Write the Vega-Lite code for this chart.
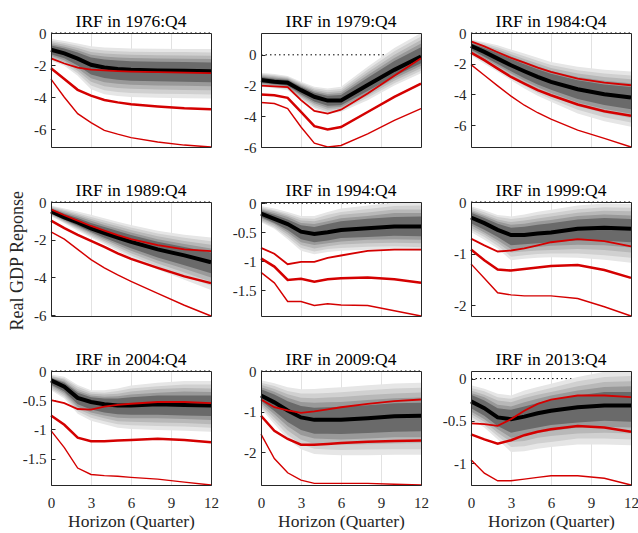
{
"$schema": "https://vega.github.io/schema/vega-lite/v6.json",
"padding": {"left": 8, "top": 12, "right": 0, "bottom": 0},
"data": {"values": [
{"p":"IRF in 1976:Q4","h":0,"m":-1.04,"r1":-1.58,"r2":-2.2,"r3":-2.87,"a1":-1.73,"b1":-0.38,"a2":-1.63,"b2":-0.48,"a3":-1.52,"b3":-0.58,"a4":-1.42,"b4":-0.68,"a5":-1.32,"b5":-0.78},
{"p":"IRF in 1976:Q4","h":1,"m":-1.27,"r1":-1.9,"r2":-2.87,"r3":-4.0,"a1":-2.04,"b1":-0.5,"a2":-1.93,"b2":-0.62,"a3":-1.81,"b3":-0.73,"a4":-1.69,"b4":-0.85,"a5":-1.58,"b5":-0.96},
{"p":"IRF in 1976:Q4","h":2,"m":-1.6,"r1":-2.15,"r2":-3.54,"r3":-5.02,"a1":-2.67,"b1":-0.65,"a2":-2.51,"b2":-0.79,"a3":-2.35,"b3":-0.94,"a4":-2.19,"b4":-1.08,"a5":-2.03,"b5":-1.22},
{"p":"IRF in 1976:Q4","h":3,"m":-1.98,"r1":-2.28,"r2":-3.9,"r3":-5.58,"a1":-3.5,"b1":-0.83,"a2":-3.27,"b2":-1.0,"a3":-3.04,"b3":-1.18,"a4":-2.82,"b4":-1.35,"a5":-2.59,"b5":-1.52},
{"p":"IRF in 1976:Q4","h":4,"m":-2.15,"r1":-2.33,"r2":-4.17,"r3":-6.06,"a1":-3.81,"b1":-0.9,"a2":-3.56,"b2":-1.09,"a3":-3.31,"b3":-1.28,"a4":-3.06,"b4":-1.46,"a5":-2.81,"b5":-1.65},
{"p":"IRF in 1976:Q4","h":5,"m":-2.24,"r1":-2.37,"r2":-4.32,"r3":-6.3,"a1":-3.92,"b1":-0.94,"a2":-3.67,"b2":-1.14,"a3":-3.42,"b3":-1.33,"a4":-3.16,"b4":-1.53,"a5":-2.91,"b5":-1.72},
{"p":"IRF in 1976:Q4","h":6,"m":-2.29,"r1":-2.4,"r2":-4.44,"r3":-6.52,"a1":-3.98,"b1":-0.96,"a2":-3.73,"b2":-1.16,"a3":-3.47,"b3":-1.36,"a4":-3.22,"b4":-1.56,"a5":-2.97,"b5":-1.76},
{"p":"IRF in 1976:Q4","h":8,"m":-2.33,"r1":-2.44,"r2":-4.58,"r3":-6.79,"a1":-4.03,"b1":-0.98,"a2":-3.78,"b2":-1.18,"a3":-3.52,"b3":-1.39,"a4":-3.27,"b4":-1.59,"a5":-3.01,"b5":-1.79},
{"p":"IRF in 1976:Q4","h":10,"m":-2.35,"r1":-2.47,"r2":-4.69,"r3":-6.98,"a1":-4.06,"b1":-0.99,"a2":-3.8,"b2":-1.19,"a3":-3.55,"b3":-1.4,"a4":-3.29,"b4":-1.6,"a5":-3.03,"b5":-1.81},
{"p":"IRF in 1976:Q4","h":12,"m":-2.38,"r1":-2.5,"r2":-4.75,"r3":-7.1,"a1":-4.08,"b1":-1.0,"a2":-3.83,"b2":-1.21,"a3":-3.57,"b3":-1.41,"a4":-3.32,"b4":-1.62,"a5":-3.06,"b5":-1.83},
{"p":"IRF in 1979:Q4","h":0,"m":-1.64,"r1":-2.01,"r2":-2.58,"r3":-3.1,"a1":-2.08,"b1":-1.16,"a2":-2.01,"b2":-1.23,"a3":-1.95,"b3":-1.3,"a4":-1.88,"b4":-1.38,"a5":-1.82,"b5":-1.45},
{"p":"IRF in 1979:Q4","h":1,"m":-1.75,"r1":-2.06,"r2":-2.63,"r3":-3.17,"a1":-2.17,"b1":-1.25,"a2":-2.11,"b2":-1.33,"a3":-2.04,"b3":-1.4,"a4":-1.98,"b4":-1.48,"a5":-1.92,"b5":-1.55},
{"p":"IRF in 1979:Q4","h":2,"m":-1.82,"r1":-2.1,"r2":-2.8,"r3":-3.5,"a1":-2.3,"b1":-1.38,"a2":-2.23,"b2":-1.45,"a3":-2.16,"b3":-1.51,"a4":-2.08,"b4":-1.58,"a5":-2.01,"b5":-1.64},
{"p":"IRF in 1979:Q4","h":3,"m":-2.3,"r1":-2.95,"r2":-3.72,"r3":-4.7,"a1":-2.95,"b1":-1.75,"a2":-2.85,"b2":-1.83,"a3":-2.76,"b3":-1.92,"a4":-2.66,"b4":-2.0,"a5":-2.56,"b5":-2.08},
{"p":"IRF in 1979:Q4","h":4,"m":-2.73,"r1":-3.65,"r2":-4.64,"r3":-5.75,"a1":-3.5,"b1":-2.08,"a2":-3.39,"b2":-2.18,"a3":-3.27,"b3":-2.28,"a4":-3.15,"b4":-2.37,"a5":-3.04,"b5":-2.47},
{"p":"IRF in 1979:Q4","h":5,"m":-2.98,"r1":-3.83,"r2":-4.86,"r3":-6.0,"a1":-3.83,"b1":-2.19,"a2":-3.7,"b2":-2.31,"a3":-3.58,"b3":-2.43,"a4":-3.45,"b4":-2.55,"a5":-3.32,"b5":-2.66},
{"p":"IRF in 1979:Q4","h":6,"m":-2.98,"r1":-3.57,"r2":-4.7,"r3":-5.9,"a1":-3.72,"b1":-2.08,"a2":-3.61,"b2":-2.22,"a3":-3.5,"b3":-2.35,"a4":-3.39,"b4":-2.49,"a5":-3.28,"b5":-2.62},
{"p":"IRF in 1979:Q4","h":8,"m":-1.97,"r1":-2.52,"r2":-3.72,"r3":-5.14,"a1":-2.95,"b1":-0.77,"a2":-2.8,"b2":-0.95,"a3":-2.66,"b3":-1.13,"a4":-2.51,"b4":-1.31,"a5":-2.36,"b5":-1.49},
{"p":"IRF in 1979:Q4","h":10,"m":-0.98,"r1":-1.36,"r2":-2.74,"r3":-4.27,"a1":-2.0,"b1":0.44,"a2":-1.85,"b2":0.23,"a3":-1.69,"b3":0.01,"a4":-1.54,"b4":-0.2,"a5":-1.39,"b5":-0.41},
{"p":"IRF in 1979:Q4","h":12,"m":-0.11,"r1":-0.22,"r2":-1.88,"r3":-3.5,"a1":-1.2,"b1":1.42,"a2":-1.04,"b2":1.19,"a3":-0.87,"b3":0.96,"a4":-0.71,"b4":0.73,"a5":-0.55,"b5":0.5},
{"p":"IRF in 1984:Q4","h":0,"m":-0.84,"r1":-0.54,"r2":-1.28,"r3":-2.06,"a1":-1.45,"b1":-0.41,"a2":-1.36,"b2":-0.47,"a3":-1.27,"b3":-0.54,"a4":-1.18,"b4":-0.6,"a5":-1.08,"b5":-0.67},
{"p":"IRF in 1984:Q4","h":1,"m":-1.23,"r1":-0.87,"r2":-1.77,"r3":-2.75,"a1":-2.0,"b1":-0.6,"a2":-1.89,"b2":-0.69,"a3":-1.77,"b3":-0.79,"a4":-1.65,"b4":-0.88,"a5":-1.54,"b5":-0.98},
{"p":"IRF in 1984:Q4","h":2,"m":-1.67,"r1":-1.25,"r2":-2.32,"r3":-3.44,"a1":-2.53,"b1":-0.8,"a2":-2.4,"b2":-0.93,"a3":-2.27,"b3":-1.06,"a4":-2.14,"b4":-1.19,"a5":-2.01,"b5":-1.32},
{"p":"IRF in 1984:Q4","h":3,"m":-2.1,"r1":-1.62,"r2":-2.86,"r3":-4.11,"a1":-3.07,"b1":-1.07,"a2":-2.93,"b2":-1.22,"a3":-2.78,"b3":-1.38,"a4":-2.63,"b4":-1.53,"a5":-2.49,"b5":-1.69},
{"p":"IRF in 1984:Q4","h":4,"m":-2.49,"r1":-1.93,"r2":-3.29,"r3":-4.7,"a1":-3.61,"b1":-1.34,"a2":-3.44,"b2":-1.51,"a3":-3.27,"b3":-1.69,"a4":-3.11,"b4":-1.86,"a5":-2.94,"b5":-2.03},
{"p":"IRF in 1984:Q4","h":5,"m":-2.86,"r1":-2.25,"r2":-3.72,"r3":-5.19,"a1":-4.08,"b1":-1.61,"a2":-3.9,"b2":-1.8,"a3":-3.71,"b3":-1.99,"a4":-3.53,"b4":-2.17,"a5":-3.35,"b5":-2.36},
{"p":"IRF in 1984:Q4","h":6,"m":-3.18,"r1":-2.53,"r2":-4.05,"r3":-5.6,"a1":-4.48,"b1":-1.88,"a2":-4.29,"b2":-2.08,"a3":-4.09,"b3":-2.27,"a4":-3.9,"b4":-2.47,"a5":-3.7,"b5":-2.66},
{"p":"IRF in 1984:Q4","h":8,"m":-3.66,"r1":-2.97,"r2":-4.65,"r3":-6.32,"a1":-5.24,"b1":-2.2,"a2":-5.0,"b2":-2.42,"a3":-4.77,"b3":-2.64,"a4":-4.53,"b4":-2.86,"a5":-4.29,"b5":-3.08},
{"p":"IRF in 1984:Q4","h":10,"m":-3.98,"r1":-3.23,"r2":-5.09,"r3":-6.86,"a1":-5.74,"b1":-2.4,"a2":-5.48,"b2":-2.64,"a3":-5.21,"b3":-2.87,"a4":-4.95,"b4":-3.11,"a5":-4.68,"b5":-3.35},
{"p":"IRF in 1984:Q4","h":12,"m":-4.2,"r1":-3.4,"r2":-5.39,"r3":-7.42,"a1":-6.1,"b1":-2.5,"a2":-5.82,"b2":-2.76,"a3":-5.53,"b3":-3.01,"a4":-5.25,"b4":-3.27,"a5":-4.96,"b5":-3.52},
{"p":"IRF in 1989:Q4","h":0,"m":-0.5,"r1":-0.39,"r2":-0.99,"r3":-1.58,"a1":-0.75,"b1":-0.18,"a2":-0.71,"b2":-0.23,"a3":-0.68,"b3":-0.28,"a4":-0.64,"b4":-0.32,"a5":-0.6,"b5":-0.37},
{"p":"IRF in 1989:Q4","h":1,"m":-0.81,"r1":-0.7,"r2":-1.38,"r3":-1.97,"a1":-1.13,"b1":-0.34,"a2":-1.08,"b2":-0.41,"a3":-1.03,"b3":-0.48,"a4":-0.99,"b4":-0.55,"a5":-0.94,"b5":-0.62},
{"p":"IRF in 1989:Q4","h":2,"m":-1.08,"r1":-0.99,"r2":-1.74,"r3":-2.51,"a1":-1.52,"b1":-0.5,"a2":-1.45,"b2":-0.59,"a3":-1.39,"b3":-0.67,"a4":-1.32,"b4":-0.76,"a5":-1.26,"b5":-0.85},
{"p":"IRF in 1989:Q4","h":3,"m":-1.4,"r1":-1.27,"r2":-2.06,"r3":-3.05,"a1":-1.88,"b1":-0.68,"a2":-1.81,"b2":-0.79,"a3":-1.74,"b3":-0.9,"a4":-1.66,"b4":-1.0,"a5":-1.59,"b5":-1.11},
{"p":"IRF in 1989:Q4","h":4,"m":-1.65,"r1":-1.52,"r2":-2.38,"r3":-3.49,"a1":-2.24,"b1":-0.86,"a2":-2.15,"b2":-0.98,"a3":-2.06,"b3":-1.1,"a4":-1.98,"b4":-1.22,"a5":-1.89,"b5":-1.33},
{"p":"IRF in 1989:Q4","h":5,"m":-1.88,"r1":-1.76,"r2":-2.72,"r3":-3.86,"a1":-2.6,"b1":-1.04,"a2":-2.49,"b2":-1.17,"a3":-2.38,"b3":-1.29,"a4":-2.28,"b4":-1.42,"a5":-2.17,"b5":-1.54},
{"p":"IRF in 1989:Q4","h":6,"m":-2.11,"r1":-1.97,"r2":-3.01,"r3":-4.21,"a1":-2.96,"b1":-1.22,"a2":-2.83,"b2":-1.35,"a3":-2.71,"b3":-1.49,"a4":-2.58,"b4":-1.62,"a5":-2.45,"b5":-1.75},
{"p":"IRF in 1989:Q4","h":8,"m":-2.51,"r1":-2.29,"r2":-3.49,"r3":-4.84,"a1":-3.58,"b1":-1.52,"a2":-3.42,"b2":-1.67,"a3":-3.26,"b3":-1.82,"a4":-3.1,"b4":-1.97,"a5":-2.94,"b5":-2.11},
{"p":"IRF in 1989:Q4","h":10,"m":-2.83,"r1":-2.51,"r2":-3.94,"r3":-5.47,"a1":-4.12,"b1":-1.74,"a2":-3.93,"b2":-1.9,"a3":-3.73,"b3":-2.07,"a4":-3.54,"b4":-2.23,"a5":-3.35,"b5":-2.39},
{"p":"IRF in 1989:Q4","h":12,"m":-3.19,"r1":-2.6,"r2":-4.3,"r3":-6.04,"a1":-4.66,"b1":-1.88,"a2":-4.44,"b2":-2.08,"a3":-4.22,"b3":-2.27,"a4":-4.0,"b4":-2.47,"a5":-3.78,"b5":-2.67},
{"p":"IRF in 1994:Q4","h":0,"m":-0.18,"r1":-0.77,"r2":-0.95,"r3":-1.19,"a1":-0.33,"b1":-0.05,"a2":-0.31,"b2":-0.07,"a3":-0.29,"b3":-0.09,"a4":-0.26,"b4":-0.11,"a5":-0.24,"b5":-0.13},
{"p":"IRF in 1994:Q4","h":1,"m":-0.27,"r1":-0.87,"r2":-1.09,"r3":-1.37,"a1":-0.44,"b1":-0.09,"a2":-0.42,"b2":-0.12,"a3":-0.39,"b3":-0.14,"a4":-0.36,"b4":-0.17,"a5":-0.34,"b5":-0.2},
{"p":"IRF in 1994:Q4","h":2,"m":-0.36,"r1":-1.05,"r2":-1.32,"r3":-1.69,"a1":-0.62,"b1":-0.15,"a2":-0.58,"b2":-0.18,"a3":-0.54,"b3":-0.21,"a4":-0.5,"b4":-0.24,"a5":-0.46,"b5":-0.28},
{"p":"IRF in 1994:Q4","h":3,"m":-0.49,"r1":-1.01,"r2":-1.3,"r3":-1.69,"a1":-0.82,"b1":-0.22,"a2":-0.77,"b2":-0.26,"a3":-0.72,"b3":-0.3,"a4":-0.67,"b4":-0.34,"a5":-0.62,"b5":-0.38},
{"p":"IRF in 1994:Q4","h":4,"m":-0.53,"r1":-1.01,"r2":-1.35,"r3":-1.76,"a1":-0.88,"b1":-0.22,"a2":-0.83,"b2":-0.27,"a3":-0.78,"b3":-0.31,"a4":-0.72,"b4":-0.36,"a5":-0.67,"b5":-0.41},
{"p":"IRF in 1994:Q4","h":5,"m":-0.5,"r1":-0.94,"r2":-1.31,"r3":-1.73,"a1":-0.84,"b1":-0.15,"a2":-0.79,"b2":-0.2,"a3":-0.74,"b3":-0.26,"a4":-0.69,"b4":-0.31,"a5":-0.64,"b5":-0.36},
{"p":"IRF in 1994:Q4","h":6,"m":-0.46,"r1":-0.9,"r2":-1.29,"r3":-1.75,"a1":-0.82,"b1":-0.09,"a2":-0.77,"b2":-0.15,"a3":-0.71,"b3":-0.2,"a4":-0.66,"b4":-0.26,"a5":-0.6,"b5":-0.31},
{"p":"IRF in 1994:Q4","h":8,"m":-0.43,"r1":-0.82,"r2":-1.28,"r3":-1.76,"a1":-0.8,"b1":-0.04,"a2":-0.75,"b2":-0.1,"a3":-0.69,"b3":-0.16,"a4":-0.63,"b4":-0.22,"a5":-0.58,"b5":-0.27},
{"p":"IRF in 1994:Q4","h":10,"m":-0.4,"r1":-0.8,"r2":-1.31,"r3":-1.85,"a1":-0.8,"b1":0.01,"a2":-0.74,"b2":-0.05,"a3":-0.68,"b3":-0.11,"a4":-0.62,"b4":-0.17,"a5":-0.56,"b5":-0.24},
{"p":"IRF in 1994:Q4","h":12,"m":-0.4,"r1":-0.8,"r2":-1.37,"r3":-1.94,"a1":-0.82,"b1":0.02,"a2":-0.76,"b2":-0.04,"a3":-0.69,"b3":-0.11,"a4":-0.63,"b4":-0.17,"a5":-0.57,"b5":-0.23},
{"p":"IRF in 1999:Q4","h":0,"m":-0.3,"r1":-0.71,"r2":-0.92,"r3":-1.2,"a1":-0.58,"b1":-0.08,"a2":-0.54,"b2":-0.11,"a3":-0.5,"b3":-0.15,"a4":-0.45,"b4":-0.18,"a5":-0.41,"b5":-0.21},
{"p":"IRF in 1999:Q4","h":1,"m":-0.41,"r1":-0.84,"r2":-1.13,"r3":-1.48,"a1":-0.73,"b1":-0.16,"a2":-0.68,"b2":-0.2,"a3":-0.63,"b3":-0.24,"a4":-0.59,"b4":-0.27,"a5":-0.54,"b5":-0.31},
{"p":"IRF in 1999:Q4","h":2,"m":-0.54,"r1":-0.96,"r2":-1.31,"r3":-1.76,"a1":-0.9,"b1":-0.25,"a2":-0.85,"b2":-0.29,"a3":-0.79,"b3":-0.34,"a4":-0.74,"b4":-0.38,"a5":-0.68,"b5":-0.42},
{"p":"IRF in 1999:Q4","h":3,"m":-0.64,"r1":-0.94,"r2":-1.33,"r3":-1.8,"a1":-1.13,"b1":-0.28,"a2":-1.06,"b2":-0.33,"a3":-0.98,"b3":-0.39,"a4":-0.91,"b4":-0.44,"a5":-0.84,"b5":-0.5},
{"p":"IRF in 1999:Q4","h":4,"m":-0.64,"r1":-0.9,"r2":-1.3,"r3":-1.82,"a1":-1.1,"b1":-0.24,"a2":-1.03,"b2":-0.3,"a3":-0.96,"b3":-0.36,"a4":-0.89,"b4":-0.42,"a5":-0.82,"b5":-0.48},
{"p":"IRF in 1999:Q4","h":5,"m":-0.61,"r1":-0.84,"r2":-1.27,"r3":-1.82,"a1":-1.08,"b1":-0.19,"a2":-1.01,"b2":-0.25,"a3":-0.94,"b3":-0.32,"a4":-0.87,"b4":-0.38,"a5":-0.8,"b5":-0.44},
{"p":"IRF in 1999:Q4","h":6,"m":-0.59,"r1":-0.78,"r2":-1.24,"r3":-1.82,"a1":-1.07,"b1":-0.15,"a2":-1.0,"b2":-0.22,"a3":-0.93,"b3":-0.28,"a4":-0.85,"b4":-0.35,"a5":-0.78,"b5":-0.41},
{"p":"IRF in 1999:Q4","h":8,"m":-0.52,"r1":-0.72,"r2":-1.22,"r3":-1.87,"a1":-1.08,"b1":-0.07,"a2":-1.0,"b2":-0.14,"a3":-0.91,"b3":-0.21,"a4":-0.83,"b4":-0.27,"a5":-0.74,"b5":-0.34},
{"p":"IRF in 1999:Q4","h":10,"m":-0.5,"r1":-0.76,"r2":-1.32,"r3":-2.03,"a1":-1.12,"b1":-0.03,"a2":-1.03,"b2":-0.1,"a3":-0.93,"b3":-0.17,"a4":-0.84,"b4":-0.24,"a5":-0.75,"b5":-0.31},
{"p":"IRF in 1999:Q4","h":12,"m":-0.52,"r1":-0.86,"r2":-1.47,"r3":-2.21,"a1":-1.18,"b1":-0.04,"a2":-1.08,"b2":-0.11,"a3":-0.98,"b3":-0.18,"a4":-0.88,"b4":-0.26,"a5":-0.78,"b5":-0.33},
{"p":"IRF in 2004:Q4","h":0,"m":-0.16,"r1":-0.5,"r2":-0.76,"r3":-1.02,"a1":-0.33,"b1":-0.06,"a2":-0.31,"b2":-0.08,"a3":-0.28,"b3":-0.09,"a4":-0.25,"b4":-0.11,"a5":-0.23,"b5":-0.12},
{"p":"IRF in 2004:Q4","h":1,"m":-0.27,"r1":-0.55,"r2":-0.92,"r3":-1.31,"a1":-0.47,"b1":-0.1,"a2":-0.44,"b2":-0.13,"a3":-0.41,"b3":-0.15,"a4":-0.38,"b4":-0.18,"a5":-0.35,"b5":-0.2},
{"p":"IRF in 2004:Q4","h":2,"m":-0.46,"r1":-0.65,"r2":-1.14,"r3":-1.66,"a1":-0.73,"b1":-0.24,"a2":-0.69,"b2":-0.27,"a3":-0.65,"b3":-0.31,"a4":-0.61,"b4":-0.34,"a5":-0.57,"b5":-0.37},
{"p":"IRF in 2004:Q4","h":3,"m":-0.53,"r1":-0.66,"r2":-1.2,"r3":-1.77,"a1":-0.85,"b1":-0.33,"a2":-0.8,"b2":-0.36,"a3":-0.75,"b3":-0.39,"a4":-0.71,"b4":-0.42,"a5":-0.66,"b5":-0.45},
{"p":"IRF in 2004:Q4","h":4,"m":-0.57,"r1":-0.61,"r2":-1.2,"r3":-1.79,"a1":-0.91,"b1":-0.33,"a2":-0.86,"b2":-0.37,"a3":-0.81,"b3":-0.4,"a4":-0.76,"b4":-0.44,"a5":-0.71,"b5":-0.47},
{"p":"IRF in 2004:Q4","h":5,"m":-0.59,"r1":-0.58,"r2":-1.19,"r3":-1.8,"a1":-0.97,"b1":-0.3,"a2":-0.91,"b2":-0.34,"a3":-0.86,"b3":-0.39,"a4":-0.8,"b4":-0.43,"a5":-0.74,"b5":-0.47},
{"p":"IRF in 2004:Q4","h":6,"m":-0.59,"r1":-0.56,"r2":-1.18,"r3":-1.82,"a1":-0.99,"b1":-0.25,"a2":-0.93,"b2":-0.3,"a3":-0.87,"b3":-0.35,"a4":-0.81,"b4":-0.4,"a5":-0.75,"b5":-0.45},
{"p":"IRF in 2004:Q4","h":8,"m":-0.57,"r1":-0.53,"r2":-1.16,"r3":-1.85,"a1":-1.01,"b1":-0.2,"a2":-0.94,"b2":-0.26,"a3":-0.88,"b3":-0.31,"a4":-0.81,"b4":-0.37,"a5":-0.75,"b5":-0.42},
{"p":"IRF in 2004:Q4","h":10,"m":-0.58,"r1":-0.53,"r2":-1.18,"r3":-1.9,"a1":-1.02,"b1":-0.17,"a2":-0.95,"b2":-0.23,"a3":-0.89,"b3":-0.29,"a4":-0.82,"b4":-0.35,"a5":-0.76,"b5":-0.42},
{"p":"IRF in 2004:Q4","h":12,"m":-0.59,"r1":-0.55,"r2":-1.22,"r3":-1.95,"a1":-1.04,"b1":-0.17,"a2":-0.97,"b2":-0.23,"a3":-0.91,"b3":-0.3,"a4":-0.84,"b4":-0.36,"a5":-0.77,"b5":-0.42},
{"p":"IRF in 2009:Q4","h":0,"m":-0.6,"r1":-0.7,"r2":-1.1,"r3":-1.55,"a1":-0.93,"b1":-0.23,"a2":-0.88,"b2":-0.29,"a3":-0.83,"b3":-0.34,"a4":-0.78,"b4":-0.4,"a5":-0.73,"b5":-0.45},
{"p":"IRF in 2009:Q4","h":1,"m":-0.77,"r1":-0.89,"r2":-1.47,"r3":-2.15,"a1":-1.3,"b1":-0.3,"a2":-1.22,"b2":-0.37,"a3":-1.14,"b3":-0.44,"a4":-1.06,"b4":-0.51,"a5":-0.98,"b5":-0.58},
{"p":"IRF in 2009:Q4","h":2,"m":-0.97,"r1":-0.97,"r2":-1.67,"r3":-2.5,"a1":-1.67,"b1":-0.4,"a2":-1.57,"b2":-0.49,"a3":-1.46,"b3":-0.57,"a4":-1.36,"b4":-0.66,"a5":-1.25,"b5":-0.74},
{"p":"IRF in 2009:Q4","h":3,"m":-1.14,"r1":-1.03,"r2":-1.81,"r3":-2.68,"a1":-1.92,"b1":-0.45,"a2":-1.8,"b2":-0.55,"a3":-1.69,"b3":-0.66,"a4":-1.57,"b4":-0.76,"a5":-1.45,"b5":-0.86},
{"p":"IRF in 2009:Q4","h":4,"m":-1.2,"r1":-0.99,"r2":-1.81,"r3":-2.76,"a1":-2.04,"b1":-0.44,"a2":-1.91,"b2":-0.55,"a3":-1.79,"b3":-0.67,"a4":-1.66,"b4":-0.78,"a5":-1.54,"b5":-0.9},
{"p":"IRF in 2009:Q4","h":5,"m":-1.2,"r1":-0.94,"r2":-1.79,"r3":-2.76,"a1":-2.06,"b1":-0.42,"a2":-1.93,"b2":-0.54,"a3":-1.8,"b3":-0.65,"a4":-1.67,"b4":-0.77,"a5":-1.54,"b5":-0.89},
{"p":"IRF in 2009:Q4","h":6,"m":-1.2,"r1":-0.89,"r2":-1.77,"r3":-2.76,"a1":-2.07,"b1":-0.4,"a2":-1.94,"b2":-0.52,"a3":-1.81,"b3":-0.64,"a4":-1.68,"b4":-0.76,"a5":-1.55,"b5":-0.88},
{"p":"IRF in 2009:Q4","h":8,"m":-1.16,"r1":-0.81,"r2":-1.74,"r3":-2.76,"a1":-2.07,"b1":-0.35,"a2":-1.93,"b2":-0.47,"a3":-1.8,"b3":-0.59,"a4":-1.66,"b4":-0.71,"a5":-1.52,"b5":-0.84},
{"p":"IRF in 2009:Q4","h":10,"m":-1.11,"r1":-0.74,"r2":-1.72,"r3":-2.78,"a1":-2.06,"b1":-0.31,"a2":-1.92,"b2":-0.43,"a3":-1.78,"b3":-0.55,"a4":-1.63,"b4":-0.67,"a5":-1.49,"b5":-0.79},
{"p":"IRF in 2009:Q4","h":12,"m":-1.1,"r1":-0.7,"r2":-1.71,"r3":-2.8,"a1":-2.06,"b1":-0.29,"a2":-1.92,"b2":-0.41,"a3":-1.77,"b3":-0.53,"a4":-1.63,"b4":-0.65,"a5":-1.48,"b5":-0.78},
{"p":"IRF in 2013:Q4","h":0,"m":-0.27,"r1":-0.53,"r2":-0.66,"r3":-0.96,"a1":-0.48,"b1":-0.08,"a2":-0.45,"b2":-0.11,"a3":-0.42,"b3":-0.14,"a4":-0.39,"b4":-0.17,"a5":-0.35,"b5":-0.19},
{"p":"IRF in 2013:Q4","h":1,"m":-0.35,"r1":-0.54,"r2":-0.72,"r3":-1.12,"a1":-0.58,"b1":-0.12,"a2":-0.55,"b2":-0.15,"a3":-0.51,"b3":-0.19,"a4":-0.48,"b4":-0.22,"a5":-0.44,"b5":-0.26},
{"p":"IRF in 2013:Q4","h":2,"m":-0.46,"r1":-0.56,"r2":-0.77,"r3":-1.21,"a1":-0.72,"b1":-0.18,"a2":-0.68,"b2":-0.22,"a3":-0.64,"b3":-0.26,"a4":-0.6,"b4":-0.31,"a5":-0.56,"b5":-0.35},
{"p":"IRF in 2013:Q4","h":3,"m":-0.48,"r1":-0.48,"r2":-0.73,"r3":-1.21,"a1":-0.87,"b1":-0.2,"a2":-0.81,"b2":-0.24,"a3":-0.75,"b3":-0.28,"a4":-0.7,"b4":-0.33,"a5":-0.64,"b5":-0.37},
{"p":"IRF in 2013:Q4","h":4,"m":-0.45,"r1":-0.38,"r2":-0.67,"r3":-1.19,"a1":-0.86,"b1":-0.14,"a2":-0.8,"b2":-0.19,"a3":-0.74,"b3":-0.23,"a4":-0.68,"b4":-0.28,"a5":-0.61,"b5":-0.33},
{"p":"IRF in 2013:Q4","h":5,"m":-0.41,"r1":-0.3,"r2":-0.63,"r3":-1.17,"a1":-0.83,"b1":-0.1,"a2":-0.77,"b2":-0.15,"a3":-0.7,"b3":-0.19,"a4":-0.64,"b4":-0.24,"a5":-0.58,"b5":-0.29},
{"p":"IRF in 2013:Q4","h":6,"m":-0.38,"r1":-0.25,"r2":-0.6,"r3":-1.15,"a1":-0.81,"b1":-0.06,"a2":-0.75,"b2":-0.11,"a3":-0.68,"b3":-0.16,"a4":-0.62,"b4":-0.2,"a5":-0.55,"b5":-0.25},
{"p":"IRF in 2013:Q4","h":8,"m":-0.34,"r1":-0.2,"r2":-0.56,"r3":-1.15,"a1":-0.78,"b1":0.02,"a2":-0.71,"b2":-0.03,"a3":-0.65,"b3":-0.09,"a4":-0.58,"b4":-0.14,"a5":-0.52,"b5":-0.2},
{"p":"IRF in 2013:Q4","h":10,"m":-0.32,"r1":-0.2,"r2":-0.58,"r3":-1.18,"a1":-0.78,"b1":0.08,"a2":-0.71,"b2":0.02,"a3":-0.64,"b3":-0.04,"a4":-0.57,"b4":-0.1,"a5":-0.5,"b5":-0.16},
{"p":"IRF in 2013:Q4","h":12,"m":-0.32,"r1":-0.22,"r2":-0.63,"r3":-1.26,"a1":-0.79,"b1":0.09,"a2":-0.72,"b2":0.03,"a3":-0.65,"b3":-0.03,"a4":-0.58,"b4":-0.09,"a5":-0.51,"b5":-0.16}
]},
"facet": {"field": "p", "type": "nominal", "title": null,
  "header": {"labelFont": "Liberation Serif", "labelFontSize": 17.5, "labelColor": "#000000", "labelPadding": -4}},
"columns": 3,
"bounds": "flush",
"spacing": {"row": 55, "column": 50},
"resolve": {"scale": {"y": "independent"}},
"title": {"text": "Real GDP Reponse", "orient": "left", "anchor": "middle", "font": "Liberation Serif", "fontSize": 18, "fontWeight": "normal", "color": "#262626", "offset": -5, "dx": 10},
"spec": {
  "width": 160,
  "height": 114,
  "view": {"stroke": "#262626", "strokeWidth": 1},
  "encoding": {
    "x": {"field": "h", "type": "quantitative", "title": "Horizon (Quarter)",
      "scale": {"domain": [0, 12], "nice": false, "zero": false},
      "axis": {"values": [0, 3, 6, 9, 12],
        "gridOpacity": {"condition": {"test": "datum.value == 0 || datum.value == 12", "value": 0}, "value": 1}}}
  },
  "layer": [
    {"mark": {"type": "line", "color": "#000000", "strokeWidth": 1, "strokeDash": [1.5, 3]},
     "encoding": {"y": {"datum": 0, "type": "quantitative", "title": " ", "scale": {"zero": false, "nice": false, "padding": 0},
       "axis": {"title": " ", "titleAngle": 0, "titleX": 2, "titleY": 0, "titleAlign": "left", "titleBaseline": "middle", "titleFontSize": 15,
         "gridOpacity": {"condition": {"test": "datum.value == 0", "value": 0}, "value": 1}}}}},
    {"mark": {"type": "area", "color": "#e6e6e6"}, "encoding": {"y": {"field": "a1", "type": "quantitative"}, "y2": {"field": "b1"}}},
    {"mark": {"type": "area", "color": "#d0d0d0"}, "encoding": {"y": {"field": "a2", "type": "quantitative"}, "y2": {"field": "b2"}}},
    {"mark": {"type": "area", "color": "#b8b8b8"}, "encoding": {"y": {"field": "a3", "type": "quantitative"}, "y2": {"field": "b3"}}},
    {"mark": {"type": "area", "color": "#999999"}, "encoding": {"y": {"field": "a4", "type": "quantitative"}, "y2": {"field": "b4"}}},
    {"mark": {"type": "area", "color": "#6a6a6a"}, "encoding": {"y": {"field": "a5", "type": "quantitative"}, "y2": {"field": "b5"}}},
    {"mark": {"type": "line", "color": "#000000", "strokeWidth": 4}, "encoding": {"y": {"field": "m", "type": "quantitative"}}},
    {"mark": {"type": "line", "color": "#d40000", "strokeWidth": 1.4}, "encoding": {"y": {"field": "r3", "type": "quantitative"}}},
    {"mark": {"type": "line", "color": "#d40000", "strokeWidth": 2.5}, "encoding": {"y": {"field": "r2", "type": "quantitative"}}},
    {"mark": {"type": "line", "color": "#d40000", "strokeWidth": 1.8}, "encoding": {"y": {"field": "r1", "type": "quantitative"}}}
  ]
},
"config": {
  "font": "Liberation Serif",
  "view": {"stroke": "#262626", "strokeWidth": 1},
  "style": {"cell": {"stroke": "#262626", "strokeWidth": 1, "strokeForeground": true}},
  "axis": {"labelFont": "Liberation Serif", "labelFontSize": 15, "labelColor": "#262626",
    "titleFont": "Liberation Serif", "titleFontSize": 17.5, "titleFontWeight": "normal", "titleColor": "#262626",
    "domain": false, "gridColor": "#e2e2e2", "tickColor": "#262626", "tickSize": -4,
    "labelFlush": false, "labelExpr": "'' + datum.value"},
  "axisY": {"tickCount": 3, "labelPadding": 9},
  "axisX": {"labelPadding": 14, "titlePadding": 2}
}
}
